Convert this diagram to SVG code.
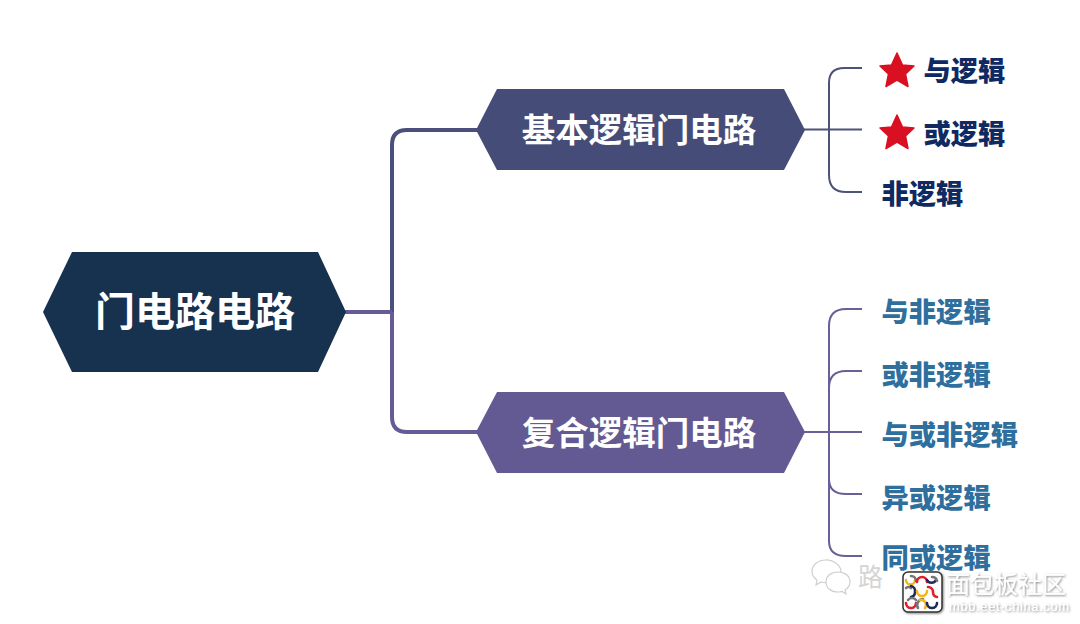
<svg xmlns="http://www.w3.org/2000/svg" width="1080" height="624" viewBox="0 0 1080 624">
<defs>
<filter id="shadow" x="-20%" y="-30%" width="140%" height="160%"><feDropShadow dx="1" dy="1" stdDeviation="1.200" flood-color="#555" flood-opacity="0.700"/></filter>
<polygon id="star" points="0,-18 5.500,-6 17,-5 8.500,3 11,15.500 0,9 -11,15.500 -8.500,3 -17,-5 -5.500,-6" stroke-linejoin="round"/>
</defs>
<style>
text{font-family:"Noto Sans CJK SC","Noto Sans",sans-serif;font-weight:900}
.h{fill:#fff;text-anchor:middle;dominant-baseline:central;font-weight:700}
.l{font-size:27.300px;dominant-baseline:central}
.navy{fill:#0f2a63}
.blue{fill:#2e6f9e}
.c{fill:none}
.star{fill:#d90f22;stroke:#d90f22;stroke-width:1.500}
.w{font-weight:400}
</style>
<rect width="1080" height="624" fill="#fff"/>
<g id="connectors" class="c">
<path d="M392 312V145Q392 130 407 130H478" stroke="#4a4f7b" stroke-width="4"/>
<path d="M392 312V417Q392 432 407 432H478" stroke="#665b95" stroke-width="4"/>
<path d="M345 312H392" stroke="#665b95" stroke-width="4"/>
<path d="M804 129.500H862M862 68H844Q829 68 829 83V175Q829 192 846 192H862" stroke="#4d5279" stroke-width="2"/>
<path d="M804 432H862M862 309H846Q829 309 829 326V541Q829 556 846 556H862M829 388Q829 371 846 371H862M829 479Q829 494 846 494H862" stroke="#6a5f99" stroke-width="2"/>
</g>
<g id="root"><polygon points="43,312 72,252 318,252 346,312 318,372 72,372" fill="#16324f"/><text class="h" x="195" y="309" font-size="40">门电路电路</text></g>
<g id="basic"><polygon points="476,130 497,89 784,89 805,130 784,170 497,170" fill="#464c78"/><text class="h" x="639" y="127" font-size="33.500">基本逻辑门电路</text></g>
<g id="compound"><polygon points="476,432 497,392 784,392 805,432 784,473 497,473" fill="#635a93"/><text class="h" x="639" y="430" font-size="33.500">复合逻辑门电路</text></g>
<g id="and"><use href="#star" x="897" y="71" class="star"/><text class="l navy" x="923.500" y="68.500">与逻辑</text></g>
<g id="or"><use href="#star" x="897" y="133" class="star"/><text class="l navy" x="923.500" y="131.500">或逻辑</text></g>
<g id="not"><text class="l navy" x="881.500" y="191.500">非逻辑</text></g>
<g id="nand"><text class="l blue" x="881.500" y="309.500">与非逻辑</text></g>
<g id="nor"><text class="l blue" x="881.500" y="372.500">或非逻辑</text></g>
<g id="andornot"><text class="l blue" x="881.500" y="432.500">与或非逻辑</text></g>
<g id="xor"><text class="l blue" x="881.500" y="495.500">异或逻辑</text></g>
<g id="xnor"><text class="l blue" x="881.500" y="556">同或逻辑</text></g>
<g id="watermark">
<g fill="#fff" stroke="#cfcfcf" stroke-width="1.200">
<path d="M826 560c-8 0-14 5-14 11 0 4 2 7 5 9l-1 5 5-3c2 .6 4 .8 6 .8 8 0 14-5 14-11s-7-12-15-12z"/>
<path d="M838 572c-7 0-12 4-12 10s5 10 12 10c1.500 0 3-.2 4-.6l4 2.600-1-4c3-2 5-5 5-8 0-6-5-10-12-10z"/>
</g>
<text class="w" x="858" y="586" font-size="25" fill="#d4d4d4">路</text>
<rect x="903" y="572" width="39" height="40" rx="5" fill="#fff" stroke="#333" stroke-width="1.500" filter="url(#shadow)"/>
<g class="c" stroke-width="2.600" stroke-linecap="round">
<path d="M906 580a4.500 4.500 0 0 0 9 0" stroke="#f2b71b"/>
<path d="M911 576a5 5 0 0 1 5 5" stroke="#777"/>
<path d="M917 582a5 5 0 0 1 10 0" stroke="#e0202a"/>
<path d="M927 580a5 5 0 0 0 9 0" stroke="#1f2a5c"/>
<path d="M932 577a5 5 0 0 1 5 4" stroke="#777"/>
<path d="M906 588a4 4 0 0 1 5 0" stroke="#777"/>
<path d="M911 586a5 5 0 0 1 4 6a5 5 0 0 1-4 5" stroke="#1f2a5c"/>
<path d="M917 591a5 5 0 0 0 10 0" stroke="#f2b71b"/>
<path d="M928 587a5 5 0 0 1 5 5a5 5 0 0 0 4 5" stroke="#e0202a"/>
<path d="M906 603a5 5 0 0 0 10 0" stroke="#e0202a"/>
<path d="M908 600a5 5 0 0 1 8 0" stroke="#777"/>
<path d="M918 608a6 6 0 0 1 5-9" stroke="#777"/>
<path d="M920 600a5 5 0 0 1 5 8" stroke="#f2b71b"/>
<path d="M927 603a5 5 0 0 0 10 0" stroke="#1f2a5c"/>
</g>
<text class="w" x="946" y="593" font-size="24" fill="#fff" filter="url(#shadow)">面包板社区</text>
<text class="w" x="949" y="611" font-size="13" style="font-family:'Liberation Sans',sans-serif;letter-spacing:.6px" fill="#fff" filter="url(#shadow)">mbb.eet-china.com</text>
</g>
</svg>
